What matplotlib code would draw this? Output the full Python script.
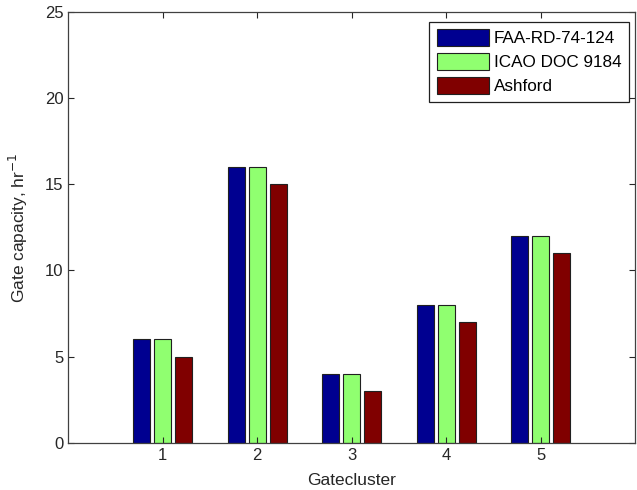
import numpy as np
import matplotlib
matplotlib.use('Agg')
import matplotlib.pyplot as plt

plt.rcParams['font.family'] = ['Liberation Sans', 'DejaVu Sans']

clusters = [1, 2, 3, 4, 5]
faa = [6, 16, 4, 8, 12]
icao = [6, 16, 4, 8, 12]
ashford = [5, 15, 3, 7, 11]
series_names = ['FAA-RD-74-124', 'ICAO DOC 9184', 'Ashford']
colors = ['#000090', '#90ff70', '#800000']

fig = plt.figure(figsize=(6.37, 4.90), dpi=100)
ax = fig.add_axes([0.107, 0.096, 0.890, 0.880])

x = np.array(clusters)
offsets = [-0.2222, 0.0, 0.2222]
width = 0.18
for vals, off, col, name in zip([faa, icao, ashford], offsets, colors, series_names):
    ax.bar(x + off, vals, width, color=col, edgecolor='#202020', linewidth=0.8, label=name)

ax.set_xlim(0, 6)
ax.set_ylim(0, 25)
ax.set_xticks(clusters)
ax.set_yticks([0, 5, 10, 15, 20, 25])
ax.tick_params(direction='in', top=True, right=True, length=4, labelsize=12, colors='#262626')
for s in ax.spines.values():
    s.set_color('#404040')
    s.set_linewidth(0.9)

ax.set_xlabel('Gatecluster', fontsize=12.5, color='#262626')
ax.set_ylabel('Gate capacity, hr$^{-1}$', fontsize=12.5, color='#262626')
ax.yaxis.set_label_coords(-0.067, 0.5)
ax.xaxis.set_label_coords(0.5, -0.07)

leg = ax.legend(loc='upper right', fontsize=12.3, fancybox=False, framealpha=1,
                edgecolor='#202020', handlelength=3.1, handleheight=1.1,
                borderpad=0.45, labelspacing=0.4, handletextpad=0.25,
                borderaxespad=0, bbox_to_anchor=(0.9894, 0.9768))
leg.get_frame().set_linewidth(0.9)

fig.savefig('out.png', dpi=100)
